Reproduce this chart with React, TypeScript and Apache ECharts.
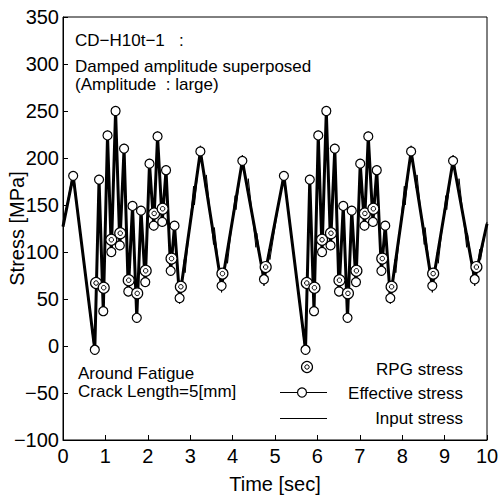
import React, { useEffect, useRef } from "react";
import * as echarts from "echarts";

const FONT = "'Liberation Sans', Arial, Helvetica, sans-serif";

// Effective stress (open circles, thick line)
const effTime = [
  0, 0.24, 0.75, 0.85, 0.95, 1.05, 1.14, 1.24, 1.34, 1.44, 1.54, 1.64, 1.74, 1.84, 1.94, 2.04, 2.14, 2.23, 2.34, 2.43, 2.54, 2.63, 2.75, 3.24, 3.74, 4.23, 4.74,
  5.21, 5.72, 5.82, 5.92, 6.02, 6.11, 6.21, 6.31, 6.41, 6.51, 6.61, 6.71, 6.81, 6.91, 7.01, 7.11, 7.2, 7.31, 7.4, 7.51, 7.6, 7.72, 8.21, 8.71, 9.2, 9.71, 10,
];
const effValue = [
  127, 181, -4, 177, 37, 224, 100, 250, 107, 210, 58, 149, 30, 144, 68, 194, 128, 223, 132, 187, 80, 128, 51, 207, 64, 197, 71,
  181, -4, 177, 37, 224, 100, 250, 107, 210, 58, 149, 30, 144, 68, 194, 128, 223, 132, 187, 80, 128, 51, 207, 64, 197, 71, 130,
];

// RPG stress (double circles)
const rpgTime = [
  0.78, 0.96, 1.14, 1.35, 1.55, 1.75, 1.95, 2.15, 2.35, 2.56, 2.78, 3.76, 4.78,
  5.75, 5.93, 6.11, 6.32, 6.52, 6.72, 6.92, 7.12, 7.32, 7.53, 7.75, 8.73, 9.75,
];
const rpgValue = [
  67, 62, 113, 120, 70, 56, 80, 141, 146, 93, 63, 77, 84,
  67, 62, 113, 120, 70, 56, 80, 141, 146, 93, 63, 77, 84,
];

// Input stress (thin line with small jags)
const inputTime = [
  0, 0.24, 0.75, 0.85, 0.95, 1.05, 1.14, 1.24, 1.34, 1.44, 1.54, 1.64, 1.74, 1.84, 1.94, 2.04, 2.14, 2.23, 2.34, 2.43, 2.54, 2.63, 2.75,
  2.86, 2.88, 3.08, 3.1, 3.24, 3.36, 3.38, 3.55, 3.57, 3.74, 3.86, 3.88, 4.06, 4.08, 4.23, 4.35, 4.37, 4.55, 4.57, 4.74, 4.86, 4.88,
  5.21, 5.72, 5.82, 5.92, 6.02, 6.11, 6.21, 6.31, 6.41, 6.51, 6.61, 6.71, 6.81, 6.91, 7.01, 7.11, 7.2, 7.31, 7.4, 7.51, 7.6, 7.72,
  7.83, 7.85, 8.05, 8.07, 8.21, 8.33, 8.35, 8.52, 8.54, 8.71, 8.83, 8.85, 9.03, 9.05, 9.2, 9.32, 9.34, 9.52, 9.54, 9.71, 9.83, 9.85, 10,
];
const inputValue = [
  127, 186, -9, 182, 32, 229, 95, 255, 102, 215, 53, 154, 25, 149, 63, 199, 123, 228, 127, 192, 75, 133, 45,
  92, 78, 170, 150, 213, 168, 182, 108, 126, 57, 100, 88, 160, 145, 203, 165, 178, 105, 120, 64, 103, 92,
  186, -9, 182, 32, 229, 95, 255, 102, 215, 53, 154, 25, 149, 63, 199, 123, 228, 127, 192, 75, 133, 45,
  92, 78, 170, 150, 213, 168, 182, 108, 126, 57, 100, 88, 160, 145, 203, 165, 178, 105, 120, 64, 103, 92, 132,
];

const xTicks = { min: 0, max: 10, interval: 1 };
const yTicks = { min: -100, max: 350, interval: 50 };

const minus = (v: number) => String(v).replace("-", "\u2212");

export default function App() {
  const ref = useRef<HTMLDivElement>(null);
  useEffect(() => {
    if (!ref.current) return;
    const chart = echarts.init(ref.current, null, { renderer: "svg" });

    const effData = effTime.map((t, i) => {
      const last = i === 0 || i === effTime.length - 1;
      return last ? { value: [t, effValue[i]], symbol: "none" } : { value: [t, effValue[i]] };
    });
    const rpgData = rpgTime.map((t, i) => [t, rpgValue[i]]);
    const inputData = inputTime.map((t, i) => [t, inputValue[i]]);

    const txt = (text: string, x: number, y: number, align = "left") => ({
      type: "text",
      x,
      y,
      z: 100,
      style: {
        text,
        fontSize: 17,
        fontFamily: FONT,
        fill: "#000",
        align,
        verticalAlign: "middle",
      },
    });

    chart.setOption({
      animation: false,
      textStyle: { fontFamily: FONT, color: "#000" },
      grid: {
        left: 63,
        right: 12,
        top: 17,
        bottom: 63,
        containLabel: false,
        outerBoundsMode: "none",
        show: true,
        borderColor: "#000",
        borderWidth: 1,
        backgroundColor: "transparent",
      },
      xAxis: {
        type: "value",
        min: xTicks.min,
        max: xTicks.max,
        interval: xTicks.interval,
        name: "Time [sec]",
        nameLocation: "middle",
        nameGap: 34,
        nameMoveOverlap: false,
        nameTextStyle: { fontSize: 20, color: "#000", fontFamily: FONT },
        axisLine: { show: true, onZero: false, lineStyle: { color: "#000", width: 1 } },
        axisTick: { show: true, inside: true, length: 5, lineStyle: { color: "#000", width: 1 } },
        axisLabel: { fontSize: 20, color: "#000", margin: 6, fontFamily: FONT },
        splitLine: { show: false },
      },
      yAxis: {
        type: "value",
        min: yTicks.min,
        max: yTicks.max,
        interval: yTicks.interval,
        name: "Stress [MPa]",
        nameLocation: "middle",
        nameGap: 36,
        nameMoveOverlap: false,
        nameTextStyle: { fontSize: 20, color: "#000", fontFamily: FONT },
        axisLine: { show: true, onZero: false, lineStyle: { color: "#000", width: 1 } },
        axisTick: { show: true, inside: true, length: 5, lineStyle: { color: "#000", width: 1 } },
        axisLabel: {
          fontSize: 20,
          color: "#000",
          margin: 4,
          fontFamily: FONT,
          padding: [5, 0, 0, 0],
          formatter: (v: number) => minus(v),
        },
        splitLine: { show: false },
      },
      series: [
        {
          name: "Input stress",
          type: "line",
          data: inputData,
          symbol: "none",
          lineStyle: { color: "#000", width: 1 },
          z: 2,
        },
        {
          name: "Effective stress",
          type: "line",
          data: effData,
          symbol: "circle",
          symbolSize: 9,
          showAllSymbol: true,
          lineStyle: { color: "#000", width: 3 },
          itemStyle: { color: "#fff", borderColor: "#000", borderWidth: 1.2 },
          z: 3,
        },
        {
          name: "RPG stress",
          type: "scatter",
          data: rpgData,
          symbol: "circle",
          symbolSize: 11,
          itemStyle: { color: "#fff", borderColor: "#000", borderWidth: 1.2, opacity: 1 },
          z: 4,
        },
        {
          name: "RPG stress inner",
          type: "scatter",
          data: rpgData,
          symbol: "circle",
          symbolSize: 4.5,
          itemStyle: { color: "#fff", borderColor: "#000", borderWidth: 1, opacity: 1 },
          z: 5,
        },
      ],
      graphic: [
        txt("CD\u2212H10t\u22121\u00a0\u00a0\u00a0:", 75, 40),
        txt("Damped amplitude superposed", 75, 66),
        txt("(Amplitude\u00a0\u00a0: large)", 75, 84),
        txt("Around Fatigue", 78, 373),
        txt("Crack Length=5[mm]", 78, 391),
        // legend
        { type: "circle", z: 100, shape: { cx: 307, cy: 367, r: 5.5 }, style: { fill: "#fff", stroke: "#000", lineWidth: 1.2 } },
        { type: "circle", z: 101, shape: { cx: 307, cy: 367, r: 2.2 }, style: { fill: "#fff", stroke: "#000", lineWidth: 1 } },
        txt("RPG stress", 463, 369, "right"),
        { type: "line", z: 100, shape: { x1: 280, y1: 392.5, x2: 327, y2: 392.5 }, style: { stroke: "#000", lineWidth: 1 } },
        { type: "circle", z: 101, shape: { cx: 302, cy: 392.5, r: 4.5 }, style: { fill: "#fff", stroke: "#000", lineWidth: 1.2 } },
        txt("Effective stress", 463, 393, "right"),
        { type: "line", z: 100, shape: { x1: 280, y1: 418.5, x2: 327, y2: 418.5 }, style: { stroke: "#000", lineWidth: 1 } },
        txt("Input stress", 463, 418, "right"),
      ],
    });
    return () => chart.dispose();
  }, []);
  return (
    <div
      ref={ref}
      style={{ position: "fixed", left: 0, top: 0, width: 499, height: 503, background: "#fff" }}
    />
  );
}
